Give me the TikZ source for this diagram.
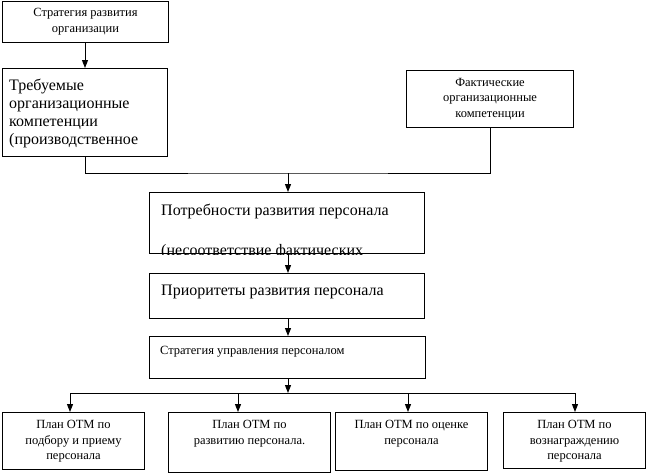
\documentclass[tikz,border=0pt]{standalone}
\usepackage{fontspec}
\setmainfont{Liberation Serif}
\usetikzlibrary{arrows.meta}
\tikzset{
  x=1pt,y=-1pt,
  box/.style={draw=black,line width=1pt,rectangle,inner sep=0pt,anchor=north west},
  small/.style={font=\fontsize{12.5}{15.7}\selectfont,inner sep=0pt,align=center},
  big/.style={font=\fontsize{16}{18}\selectfont,inner sep=0pt,align=left},
  arr/.style={line width=1pt,-{Triangle[length=8pt,width=6pt]}},
  ln/.style={line width=1pt}
}
\begin{document}
\begin{tikzpicture}
\useasboundingbox (0,0) rectangle (649,475);
% boxes
\node[box,minimum width=166pt,minimum height=41pt] (b1) at (2,1) {};
\node[small] (t1) at (b1.center) {Стратегия развития\\организации};
\node[box,minimum width=165pt,minimum height=88pt] (b2) at (2,68) {};
\node[big,anchor=north west] (t2) at (9,78.5) {Требуемые\\организационные\\компетенции\\(производственное};
\node[box,minimum width=167pt,minimum height=57pt] (b3) at (406,70) {};
\node[small] (t3) at (b3.center) {Фактические\\организационные\\компетенции};
\node[box,minimum width=275pt,minimum height=61pt] (b4) at (149,192) {};
\begin{scope}
\clip (b4.north west) rectangle (b4.south east);
\node[big,anchor=base west] (t4a) at (161,215) {Потребности развития персонала};
\node[big,anchor=base west] (t4b) at (161,255) {(несоответствие фактических};
\end{scope}
\node[box,minimum width=275pt,minimum height=45pt] (b5) at (149,273) {};
\node[big,anchor=base west] (t5) at (161,295) {Приоритеты развития персонала};
\node[box,minimum width=276pt,minimum height=42pt] (b6) at (149,336) {};
\node[small,anchor=base west] (t6) at (160,354) {Стратегия управления персоналом};
\node[box,minimum width=142pt,minimum height=57pt] (b7) at (2,412) {};
\node[small,anchor=north] (t7) at ([yshift=-8pt]b7.north) {План ОТМ по\\подбору и приему\\персонала};
\node[box,minimum width=162pt,minimum height=60pt] (b8) at (168,412) {};
\node[small,anchor=north] (t8) at ([yshift=-8pt]b8.north) {План ОТМ по\\развитию персонала.};
\node[box,minimum width=152pt,minimum height=58pt] (b9) at (335,412) {};
\node[small,anchor=north] (t9) at ([yshift=-8pt]b9.north) {План ОТМ по оценке\\персонала};
\node[box,minimum width=142pt,minimum height=56pt] (b10) at (503,412) {};
\node[small,anchor=north] (t10) at ([yshift=-8pt]b10.north) {План ОТМ по\\вознаграждению\\персонала};
% connectors
\coordinate (j1) at (288,173);
\coordinate (j2) at (288,393);
\draw[arr] (b1.south -| 85,0) -- (b2.north -| 85,0);
\draw[ln] (b2.south -| 85,0) |- (j1) -| (b3.south -| 490,0);
\draw[arr] (j1) -- (b4.north -| j1);
\draw[arr] (b4.south -| j1) -- (b5.north -| j1);
\draw[arr] (b5.south -| j1) -- (b6.north -| j1);
\draw[arr] (b6.south -| j1) -- (j2);
\coordinate (c7) at (70,393);
\coordinate (c8) at (238,393);
\coordinate (c9) at (408,393);
\coordinate (c10) at (575,393);
\draw[ln] (c7) -- (c10);
\draw[arr] (c7) -- (b7.north -| c7);
\draw[arr] (c8) -- (b8.north -| c8);
\draw[arr] (c9) -- (b9.north -| c9);
\draw[arr] (c10) -- (b10.north -| c10);
\end{tikzpicture}
\end{document}
